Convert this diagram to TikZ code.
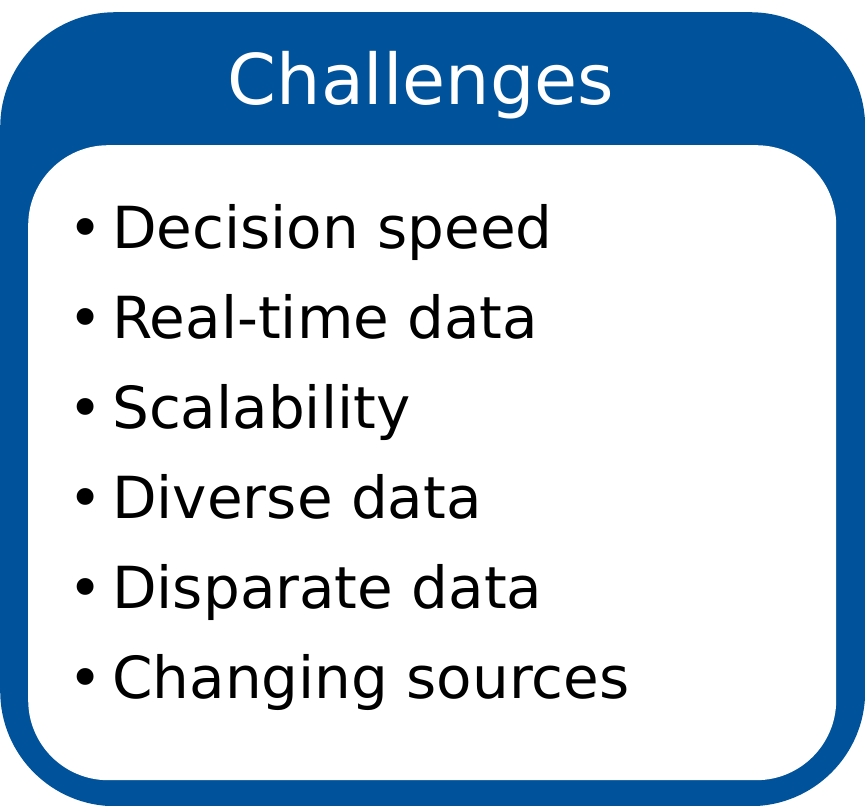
\documentclass[tikz,border=0pt]{standalone}
\usepackage{fontspec}
\setmainfont{DejaVu Sans}
\definecolor{cblue}{HTML}{00539B}
\begin{document}
\begin{tikzpicture}[x=1pt,y=-1pt,
  item/.style={anchor=base west,font=\fontsize{58}{60}\selectfont,inner sep=0pt}]
\useasboundingbox (0,0) rectangle (865,806);
\fill[white] (0,0) rectangle (865,806);
\node[fill=cblue,rounded corners=115pt,minimum width=865pt,minimum height=794pt,inner sep=0pt,anchor=north west] (outer) at (0,12) {};
\node[fill=white,rounded corners=80pt,minimum width=808pt,minimum height=635pt,inner sep=0pt,anchor=north west] (inner) at (28,145) {};
\node[text=white,anchor=base,font=\fontsize{70}{72}\selectfont,inner sep=0pt] (title) at (421,104) {Challenges};
\foreach \t [count=\i] in {Decision speed,Real-time data,Scalability,Diverse data,Disparate data,Changing sources}{
  \node[item] (b\i) at (68,{248+90*(\i-1)}) {\textbullet};
  \node[item] (t\i) at (112,{248+90*(\i-1)}) {\t};
}
\end{tikzpicture}
\end{document}
